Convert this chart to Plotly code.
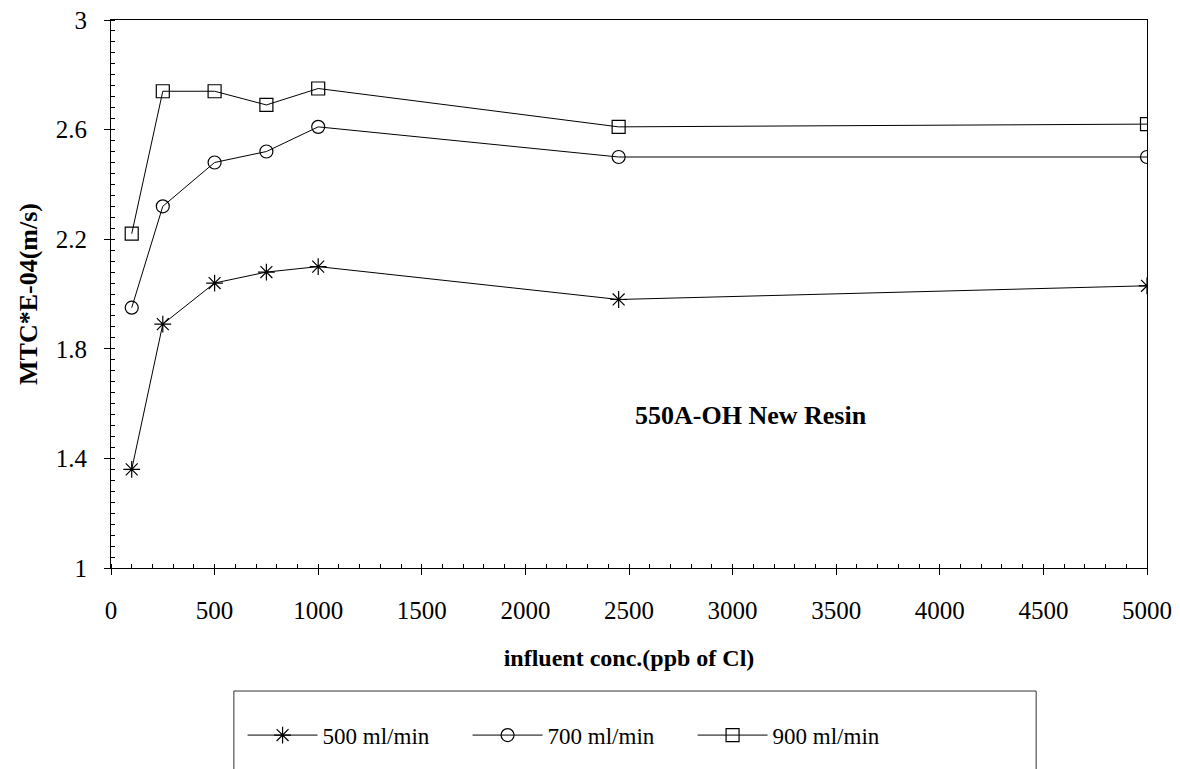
import plotly.graph_objects as go

x_conc = [100, 250, 500, 750, 1000, 2450, 5000]
mtc_500 = [1.36, 1.89, 2.04, 2.08, 2.10, 1.98, 2.03]
mtc_700 = [1.95, 2.32, 2.48, 2.52, 2.61, 2.50, 2.50]
mtc_900 = [2.22, 2.74, 2.74, 2.69, 2.75, 2.61, 2.62]
series_names = ["500 ml/min", "700 ml/min", "900 ml/min"]
x_ticks = [0, 500, 1000, 1500, 2000, 2500, 3000, 3500, 4000, 4500, 5000]
y_ticks = [1, 1.4, 1.8, 2.2, 2.6, 3]
y_ticktext = ["1", "1.4", "1.8", "2.2", "2.6", "3"]

FONT = "Liberation Serif, Times New Roman, serif"

fig = go.Figure()
symbols = ["asterisk-open", "circle-open", "square-open"]
sizes = [14, 13, 13]
for name, ys, sym, sz in zip(series_names, [mtc_500, mtc_700, mtc_900], symbols, sizes):
    fig.add_trace(go.Scatter(
        x=x_conc, y=ys, name=name, mode="lines+markers",
        line=dict(color="black", width=1),
        marker=dict(symbol=sym, size=sz, color="black", line=dict(color="black", width=1.2)),
    ))

fig.add_annotation(x=3090, y=1.555, xref="x", yref="y", text="<b>550A-OH New Resin</b>",
                   showarrow=False, font=dict(family=FONT, size=26, color="black"))

# legend frame
fig.add_shape(type="rect", xref="paper", yref="paper",
              x0=0.1186, x1=0.893, y0=-0.2245, y1=-0.45,
              line=dict(color="#333", width=1), fillcolor="rgba(0,0,0,0)")

fig.update_layout(
    width=1180, height=769,
    margin=dict(l=111, r=33, t=20, b=201),
    paper_bgcolor="white", plot_bgcolor="white",
    font=dict(family=FONT, size=24, color="black"),
    showlegend=True,
    legend=dict(orientation="h", x=0.127, y=-0.305, xanchor="left", yanchor="middle",
                font=dict(family=FONT, size=23, color="black"),
                itemwidth=70, entrywidth=140, entrywidthmode="pixels",
                bgcolor="rgba(0,0,0,0)", tracegroupgap=0),
    xaxis=dict(
        range=[0, 5000], tickvals=x_ticks, showgrid=False, zeroline=False, automargin=False,
        showline=True, linecolor="black", linewidth=1, mirror=True,
        ticks="outside", ticklen=6, tickcolor="black", ticklabelstandoff=14,
        minor=dict(dtick=100, ticks="inside", ticklen=4, tickcolor="black", showgrid=False),
        tickfont=dict(family=FONT, size=25),
        title=dict(text="<b>influent conc.(ppb of Cl)</b>", font=dict(family=FONT, size=24), standoff=26),
    ),
    yaxis=dict(
        range=[1, 3], tickvals=y_ticks, ticktext=y_ticktext, showgrid=False, zeroline=False, automargin=False,
        showline=True, linecolor="black", linewidth=1, mirror=True,
        ticks="outside", ticklen=6, tickcolor="black", ticklabelstandoff=12,
        minor=dict(dtick=0.04, tick0=1, ticks="inside", ticklen=4, tickcolor="black", showgrid=False),
        tickfont=dict(family=FONT, size=25),
        title=dict(text="<b>MTC*E-04(m/s)</b>", font=dict(family=FONT, size=26), standoff=10),
    ),
)

fig.write_html("out.html")
